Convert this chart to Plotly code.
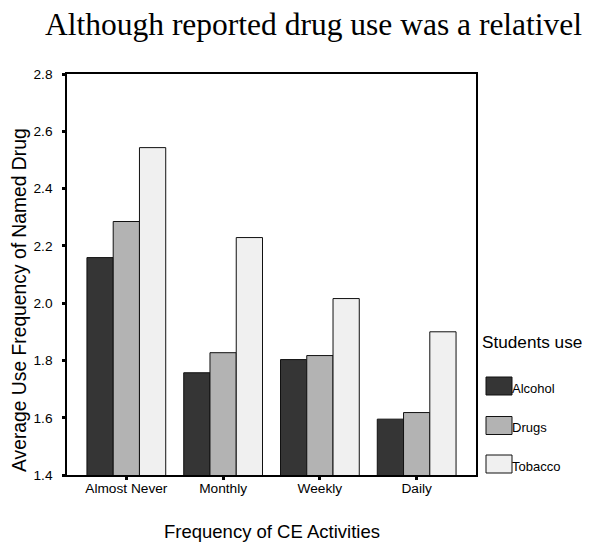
import plotly.graph_objects as go

categories = ["Almost Never", "Monthly", "Weekly", "Daily"]
series_names = ["Alcohol", "Drugs", "Tobacco"]
alcohol = [2.159, 1.757, 1.803, 1.595]
drugs = [2.285, 1.827, 1.817, 1.618]
tobacco = [2.543, 2.229, 2.016, 1.900]
series_values = [alcohol, drugs, tobacco]
colors = ["#353535", "#b3b3b3", "#f0f0f0"]
y_ticks = [1.4, 1.6, 1.8, 2.0, 2.2, 2.4, 2.6, 2.8]

OFF = 8  # page body margin
W, H = 590 - OFF, 542 - OFF
# plot area in screen pixels
X0, X1, Y0, Y1 = 67, 476, 74, 475
L, T = X0 - OFF, Y0 - OFF
pw, ph = X1 - X0, Y1 - Y0
R, B = W - L - pw, H - T - ph

def px(x):
    return (x - X0) / pw

def py(y):
    return (Y1 - y) / ph

fig = go.Figure()
for name, vals, col in zip(series_names, series_values, colors):
    fig.add_trace(go.Bar(
        x=list(range(len(categories))), y=vals, name=name,
        marker=dict(color=col, line=dict(color="#111111", width=1)),
        showlegend=False,
    ))

annotations = [
    dict(text="Although reported drug use was a relativel", xref="paper", yref="paper",
         x=px(43), y=py(25), xanchor="left", yanchor="middle", showarrow=False,
         font=dict(family="Liberation Serif", size=31.5, color="black")),
    dict(text="Average Use Frequency of Named Drug", xref="paper", yref="paper",
         x=px(19), y=py(300), xanchor="center", yanchor="middle", textangle=-90,
         showarrow=False, font=dict(family="Liberation Sans", size=19.3, color="black")),
    dict(text="Frequency of CE Activities", xref="paper", yref="paper",
         x=px(271.5), y=py(531), xanchor="center", yanchor="middle",
         showarrow=False, font=dict(family="Liberation Sans", size=18.5, color="black")),
    dict(text="Students use", xref="paper", yref="paper",
         x=px(480), y=py(342), xanchor="left", yanchor="middle",
         showarrow=False, font=dict(family="Liberation Sans", size=17.2, color="black")),
]
shapes = []
leg_y = [386, 425.5, 464]
for name, col, yc in zip(series_names, colors, leg_y):
    shapes.append(dict(type="rect", xref="paper", yref="paper",
                       x0=px(486), x1=px(512), y0=py(yc + 9), y1=py(yc - 9),
                       fillcolor=col, line=dict(color="#111111", width=1)))
    annotations.append(dict(text=name, xref="paper", yref="paper",
                            x=px(510), y=py(yc + 2), xanchor="left", yanchor="middle",
                            showarrow=False,
                            font=dict(family="Liberation Sans", size=13, color="black")))

fig.update_layout(
    width=W, height=H,
    margin=dict(l=L, r=R, t=T, b=B, autoexpand=False),
    paper_bgcolor="white", plot_bgcolor="white",
    barmode="group", bargap=0.186, bargroupgap=0,
    annotations=annotations, shapes=shapes,
    font=dict(family="Liberation Sans", size=14, color="black"),
)
fig.update_xaxes(
    range=[-0.613, 3.613], tickvals=list(range(len(categories))), ticktext=categories,
    ticks="outside", ticklen=3, tickwidth=3, tickcolor="black", ticklabelstandoff=-3,
    showline=True, linecolor="black", linewidth=1.5, mirror=True,
    showgrid=False, zeroline=False, tickfont=dict(size=13.7, color="black"),
)
fig.update_yaxes(
    range=[1.4, 2.8], tickvals=y_ticks, tickformat=".1f",
    ticks="outside", ticklen=3, tickwidth=3, tickcolor="black", ticklabelstandoff=7,
    showline=True, linecolor="black", linewidth=1.5, mirror=True,
    showgrid=False, zeroline=False, tickfont=dict(size=13.7, color="black"),
)

fig.write_html("out.html")
